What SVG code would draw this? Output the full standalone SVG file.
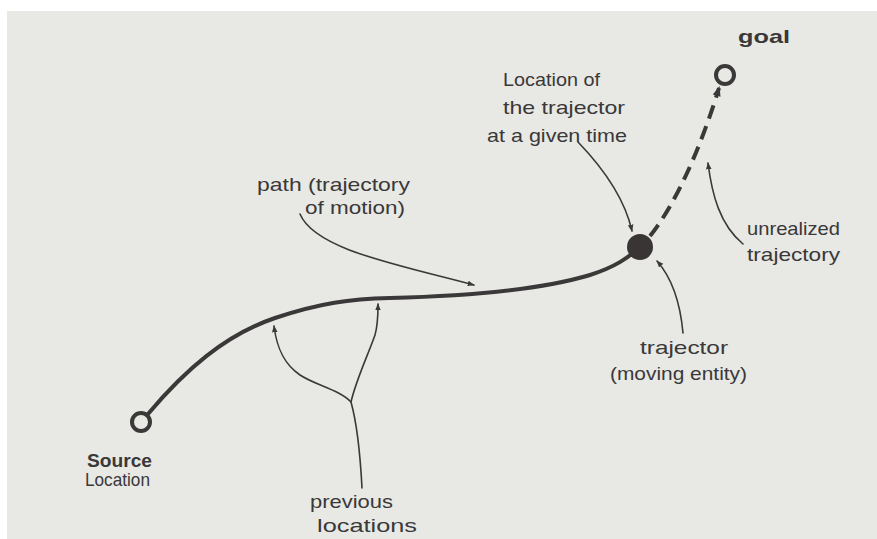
<svg xmlns="http://www.w3.org/2000/svg" width="877" height="539" viewBox="0 0 877 539">
<defs>
<marker id="ah" viewBox="0 0 10 10" refX="9" refY="5" markerWidth="7" markerHeight="7" orient="auto-start-reverse" markerUnits="userSpaceOnUse">
<path d="M0,1 L10,5 L0,9 Z" fill="#3a3838"/>
</marker>
<marker id="ahBig" viewBox="0 0 10 10" refX="8" refY="5" markerWidth="10" markerHeight="10" orient="auto" markerUnits="userSpaceOnUse">
<path d="M0,1 L10,5 L0,9 Z" fill="#3a3838"/>
</marker>
</defs>
<style>
.t{font-family:"Liberation Sans","DejaVu Sans",sans-serif;font-size:19px;fill:#3a3838}
.b{font-weight:bold}
.main{fill:none;stroke:#3a3838;stroke-width:4;stroke-linecap:round}
.dash{fill:none;stroke:#3a3838;stroke-width:4;stroke-dasharray:14 8}
.ann{fill:none;stroke:#3a3838;stroke-width:1.6;stroke-linecap:round}
.loc{fill:none;stroke:#3a3838;stroke-width:4}
</style>
<rect x="0" y="0" width="877" height="539" fill="#ffffff"/>
<rect x="7" y="11" width="870" height="528" fill="#e8e8e4"/>

<g id="connectors">
<path class="main" d="M148,414 C185,370 225,335 275,318 C320,303 350,299 390,298 C470,296 540,290 590,275 C615,267 628,258 640,247"/>
<path class="dash" d="M650,236 C675,205 700,150 719,88" marker-end="url(#ahBig)"/>
<path class="ann" d="M300,214 C315,250 400,265 474,285" marker-end="url(#ah)"/>
<path class="ann" d="M578,142 C605,170 625,200 632,231" marker-end="url(#ah)"/>
<path class="ann" d="M743,244 C720,225 712,195 708,163" marker-end="url(#ah)"/>
<path class="ann" d="M683,333 C680,300 672,278 657,261" marker-end="url(#ah)"/>
<path class="ann" d="M362,488 C360,450 356,420 351,402 C340,390 315,385 300,375 C285,365 277,350 274,326" marker-end="url(#ah)"/>
<path class="ann" d="M351,402 C356,380 368,355 375,335 C378,325 378,315 378,304" marker-end="url(#ah)"/>
</g>

<g id="source">
<circle class="loc" cx="141" cy="422" r="9"/>
<text class="t b" x="87" y="467" font-size="17" textLength="65" lengthAdjust="spacingAndGlyphs">Source</text>
<text class="t" x="85" y="486" font-size="17" textLength="65" lengthAdjust="spacingAndGlyphs">Location</text>
</g>

<g id="goal">
<circle class="loc" cx="725" cy="75" r="9"/>
<text class="t b" x="738" y="43" font-size="24" textLength="52" lengthAdjust="spacingAndGlyphs">goal</text>
</g>

<g id="trajector">
<circle cx="640" cy="247" r="13" fill="#3a3535"/>
</g>

<g id="label-location">
<text class="t" x="503" y="86" textLength="97" lengthAdjust="spacingAndGlyphs">Location of</text>
<text class="t" x="503" y="114" textLength="122" lengthAdjust="spacingAndGlyphs">the trajector</text>
<text class="t" x="487" y="142" textLength="140" lengthAdjust="spacingAndGlyphs">at a given time</text>
</g>

<g id="label-unrealized">
<text class="t" x="747" y="235" textLength="93" lengthAdjust="spacingAndGlyphs">unrealized</text>
<text class="t" x="747" y="261" textLength="93" lengthAdjust="spacingAndGlyphs">trajectory</text>
</g>

<g id="label-trajector">
<text class="t" x="640" y="354" textLength="88" lengthAdjust="spacingAndGlyphs">trajector</text>
<text class="t" x="610" y="380" textLength="137" lengthAdjust="spacingAndGlyphs">(moving entity)</text>
</g>

<g id="label-path">
<text class="t" x="257" y="191" textLength="153" lengthAdjust="spacingAndGlyphs">path (trajectory</text>
<text class="t" x="305" y="214" textLength="100" lengthAdjust="spacingAndGlyphs">of motion)</text>
</g>

<g id="label-previous">
<text class="t" x="310" y="508" textLength="83" lengthAdjust="spacingAndGlyphs">previous</text>
<text class="t" x="317" y="532" textLength="100" lengthAdjust="spacingAndGlyphs">locations</text>
</g>
</svg>
